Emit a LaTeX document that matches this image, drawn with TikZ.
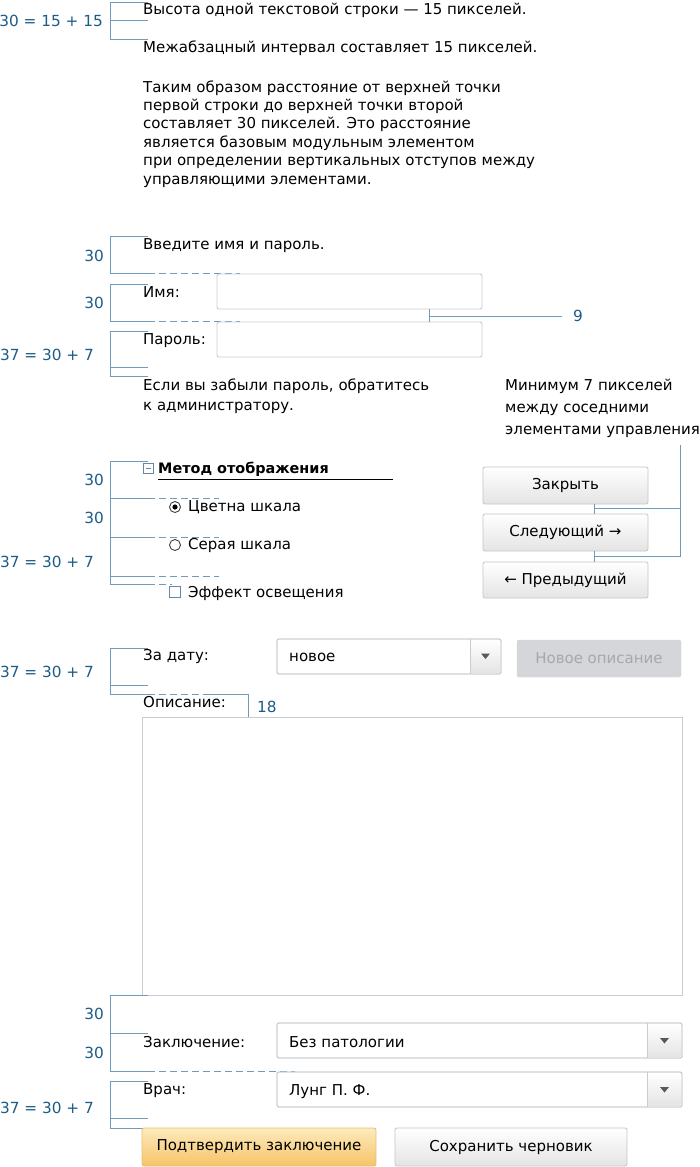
\documentclass[tikz,border=0pt]{standalone}
\usepackage{fontspec}
\setmainfont{DejaVu Sans}
\usetikzlibrary{shapes.geometric}
\definecolor{annot}{RGB}{28,92,135}
\definecolor{brkc}{RGB}{112,155,186}
\definecolor{fieldc}{RGB}{200,204,210}
\definecolor{btnb}{RGB}{196,198,200}
\definecolor{btng}{RGB}{228,228,228}
\definecolor{disf}{RGB}{212,214,218}
\definecolor{dist}{RGB}{165,168,173}
\definecolor{orgt}{RGB}{253,234,188}
\definecolor{orgb}{RGB}{246,196,104}
\definecolor{orgd}{RGB}{232,190,118}
\definecolor{ctrlc}{RGB}{105,135,165}
\newcommand{\bodyfont}{\fontsize{15}{17}\selectfont}
\newcommand{\annfont}{\fontsize{15.3}{18}\selectfont}
\begin{document}
\begin{tikzpicture}[x=1pt,y=-1pt,
  txt/.style={anchor=base west, inner sep=0pt, font=\bodyfont, text=black},
  btxt/.style={txt, font=\fontsize{14.4}{17}\selectfont\bfseries},
  lbl/.style={anchor=base east, inner sep=0pt, font=\annfont, text=annot},
  lblw/.style={anchor=base west, inner sep=0pt, font=\annfont, text=annot},
  brk/.style={draw=brkc, line width=1pt},
  dsh/.style={brk, dash pattern=on 7pt off 4pt},
  field/.style={draw=fieldc, fill=white, rounded corners=2pt, line width=0.9pt, inner sep=0pt},
  btn/.style={draw=btnb, rounded corners=2pt, top color=white, bottom color=btng, line width=0.8pt,
     inner sep=0pt, font=\bodyfont, text=black},
  disbtn/.style={draw=disf, fill=disf, rounded corners=2pt, inner sep=0pt,
     font=\bodyfont, text=dist},
  okbtn/.style={draw=orgd, rounded corners=2pt, top color=orgt, bottom color=orgb, line width=0.8pt,
     inner sep=0pt, font=\bodyfont, text=black},
  ctrl/.style={draw=ctrlc, line width=0.9pt},
]
\useasboundingbox (0,0) rectangle (699,1167);
\fill[white] (0,0) rectangle (699,1167);

% ---------------- Section 1 ----------------
\draw[brk] (148,2) -- (110,2) -- (110,39) -- (148,39);
\draw[brk] (110,20) -- (148,20);
\node[lbl] (l1) at (103,26) {30 = 15 + 15};
\node[txt] (t1) at (143,14) {Высота одной текстовой строки — 15 пикселей.};
\node[txt] (t2) at (143,52) {Межабзацный интервал составляет 15 пикселей.};
\node[txt] (p1) at (143,92) {Таким образом расстояние от верхней точки};
\node[txt] (p2) at (143,110.4) {первой строки до верхней точки второй};
\node[txt] (p3) at (143,128.8) {составляет 30 пикселей. Это расстояние};
\node[txt] (p4) at (143,147.2) {является базовым модульным элементом};
\node[txt] (p5) at (143,165.6) {при определении вертикальных отступов между};
\node[txt] (p6) at (143,184) {управляющими элементами.};

% ---------------- Section 2 ----------------
\draw[brk] (148,236) -- (110,236) -- (110,273) -- (148,273);
\draw[dsh] (148,273) -- (240,273);
\draw[brk] (148,284) -- (110,284) -- (110,321) -- (148,321);
\draw[dsh] (148,321) -- (240,321);
\draw[brk] (148,331) -- (110,331) -- (110,376) -- (148,376);
\draw[brk] (110,367) -- (148,367);
\node[lbl] (l2) at (104,261) {30};
\node[lbl] (l3) at (104,308) {30};
\node[lbl] (l4) at (94,360) {37 = 30 + 7};

\node[txt] (t3) at (143,249) {Введите имя и пароль.};
\node[txt] (t4) at (143,297) {Имя:};
\node[txt] (t5) at (143,344) {Пароль:};
\node[field, minimum width=265pt, minimum height=35pt] (f1) at (349.5,291.5) {};
\node[field, minimum width=265pt, minimum height=35pt] (f2) at (349.5,339.5) {};
\coordinate (n9) at (429,316);
\draw[brk] (429,309) -- (429,322);
\draw[brk] (n9) -- (562,316);
\node[lblw, anchor=west] (l9) at (573,316) {9};

\node[txt] (t6) at (143,390) {Если вы забыли пароль, обратитесь};
\node[txt] (t7) at (143,410) {к администратору.};

% right note
\node[txt] (m1) at (505,390) {Минимум 7 пикселей};
\node[txt] (m2) at (505,412) {между соседними};
\node[txt] (m3) at (505,434) {элементами управления};
\node[btn, minimum width=165pt, minimum height=37pt] (b1) at (565.5,485.5) {Закрыть};
\node[btn, minimum width=165pt, minimum height=37pt] (b2) at (565.5,532.5) {Следующий →};
\node[btn, minimum width=165pt, minimum height=36pt] (b3) at (565.5,580) {← Предыдущий};
\coordinate (kx) at (594,0);
\draw[brk] (680,445) -- (680,556) -- (594,556);
\draw[brk] (680,508) -- (594,508);
\draw[brk] (kx |- b1.south) -- (kx |- b2.north);
\draw[brk] (kx |- b2.south) -- (kx |- b3.north);

% ---------------- Section 3 ----------------
\draw[brk] (148,461) -- (110,461) -- (110,584) -- (148,584);
\draw[dsh] (148,584) -- (172,584);
\foreach \yy in {498,537,576}{
  \draw[brk] (110,\yy) -- (148,\yy);
  \draw[dsh] (148,\yy) -- (219,\yy);
}
\node[lbl] (l5) at (104,485) {30};
\node[lbl] (l6) at (104,523) {30};
\node[lbl] (l7) at (94,567) {37 = 30 + 7};

\draw[ctrl] (143,463) rectangle (153,473);
\draw[ctrl] (145.5,468) -- (150.5,468);
\node[btxt] (h1) at (158,473) {Метод отображения};
\draw[black, line width=1pt] (158,479) -- (393,479);
\draw[black!75, line width=0.9pt] (175,507) circle (5.5pt);
\fill[black] (175,507) circle (2.6pt);
\node[txt] (r1) at (188,511) {Цветна шкала};
\draw[black!75, line width=0.9pt] (175,545) circle (5.5pt);
\node[txt] (r2) at (188,549) {Серая шкала};
\draw[ctrl] (169,586) rectangle (180,597);
\node[txt] (c1) at (188,597) {Эффект освещения};

% ---------------- Section 4 ----------------
\draw[brk] (148,648) -- (110,648) -- (110,694) -- (148,694);
\draw[brk] (110,685) -- (148,685);
\draw[dsh] (148,694) -- (210,694);
\draw[brk] (210,694) -- (248,694) -- (248,717) -- (210,717);
\node[lbl] (l8) at (94,677) {37 = 30 + 7};
\node[lblw] (l18) at (257,712) {18};

\node[txt] (t8) at (143,660) {За дату:};
\node[txt] (t9) at (143,707) {Описание:};
\node[field, minimum width=224pt, minimum height=35pt] (d1) at (389,656.5) {};
\shade[top color=white, bottom color=btng] (470,640) -- (498.5,640) to[out=0,in=-90] (500.5,642) -- (500.5,671) to[out=90,in=0] (498.5,673) -- (470,673) -- cycle;
\draw[fieldc, line width=0.9pt, rounded corners=2pt] (277,639) rectangle (501,674);
\draw[fieldc, line width=0.9pt] (470,639) -- (470,674);
\fill[black!65] (481,653.5) -- (490,653.5) -- (485.5,659) -- cycle;
\node[txt] (v1) at (289,661) {новое};
\node[disbtn, minimum width=164pt, minimum height=37pt] (b4) at (599,658.5) {Новое описание};

\draw[fieldc, line width=1pt] (142,717) rectangle (682,995);

% ---------------- Section 5 ----------------
\draw[brk] (148,995) -- (110,995) -- (110,1071) -- (148,1071);
\draw[brk] (110,1033) -- (148,1033);
\draw[dsh] (148,1071) -- (295,1071);
\draw[brk] (148,1081) -- (110,1081) -- (110,1128) -- (148,1128);
\draw[brk] (110,1118) -- (148,1118);
\node[lbl] (l10) at (104,1019) {30};
\node[lbl] (l11) at (104,1058) {30};
\node[lbl] (l12) at (94,1113) {37 = 30 + 7};

\node[txt] (t10) at (143,1047) {Заключение:};
\node[txt] (t11) at (143,1094) {Врач:};

\node[field, minimum width=405pt, minimum height=35pt] (d2) at (479.5,1040.5) {};
\shade[top color=white, bottom color=btng] (647,1024) -- (679.5,1024) to[out=0,in=-90] (681.5,1026) -- (681.5,1055) to[out=90,in=0] (679.5,1057) -- (647,1057) -- cycle;
\draw[fieldc, line width=0.9pt, rounded corners=2pt] (277,1023) rectangle (682,1058);
\draw[fieldc, line width=0.9pt] (647,1023) -- (647,1058);
\fill[black!65] (660,1038) -- (669,1038) -- (664.5,1043.5) -- cycle;
\node[txt] (v2) at (289,1047) {Без патологии};

\node[field, minimum width=405pt, minimum height=35pt] (d3) at (479.5,1089.5) {};
\shade[top color=white, bottom color=btng] (647,1073) -- (679.5,1073) to[out=0,in=-90] (681.5,1075) -- (681.5,1104) to[out=90,in=0] (679.5,1106) -- (647,1106) -- cycle;
\draw[fieldc, line width=0.9pt, rounded corners=2pt] (277,1072) rectangle (682,1107);
\draw[fieldc, line width=0.9pt] (647,1072) -- (647,1107);
\fill[black!65] (660,1087) -- (669,1087) -- (664.5,1092.5) -- cycle;
\node[txt] (v3) at (289,1095) {Лунг П. Ф.};

\node[okbtn, minimum width=234pt, minimum height=38pt] (b5) at (259,1147) {Подтвердить заключение};
\node[btn, minimum width=232pt, minimum height=38pt] (b6) at (511,1147) {Сохранить черновик};
\end{tikzpicture}
\end{document}
